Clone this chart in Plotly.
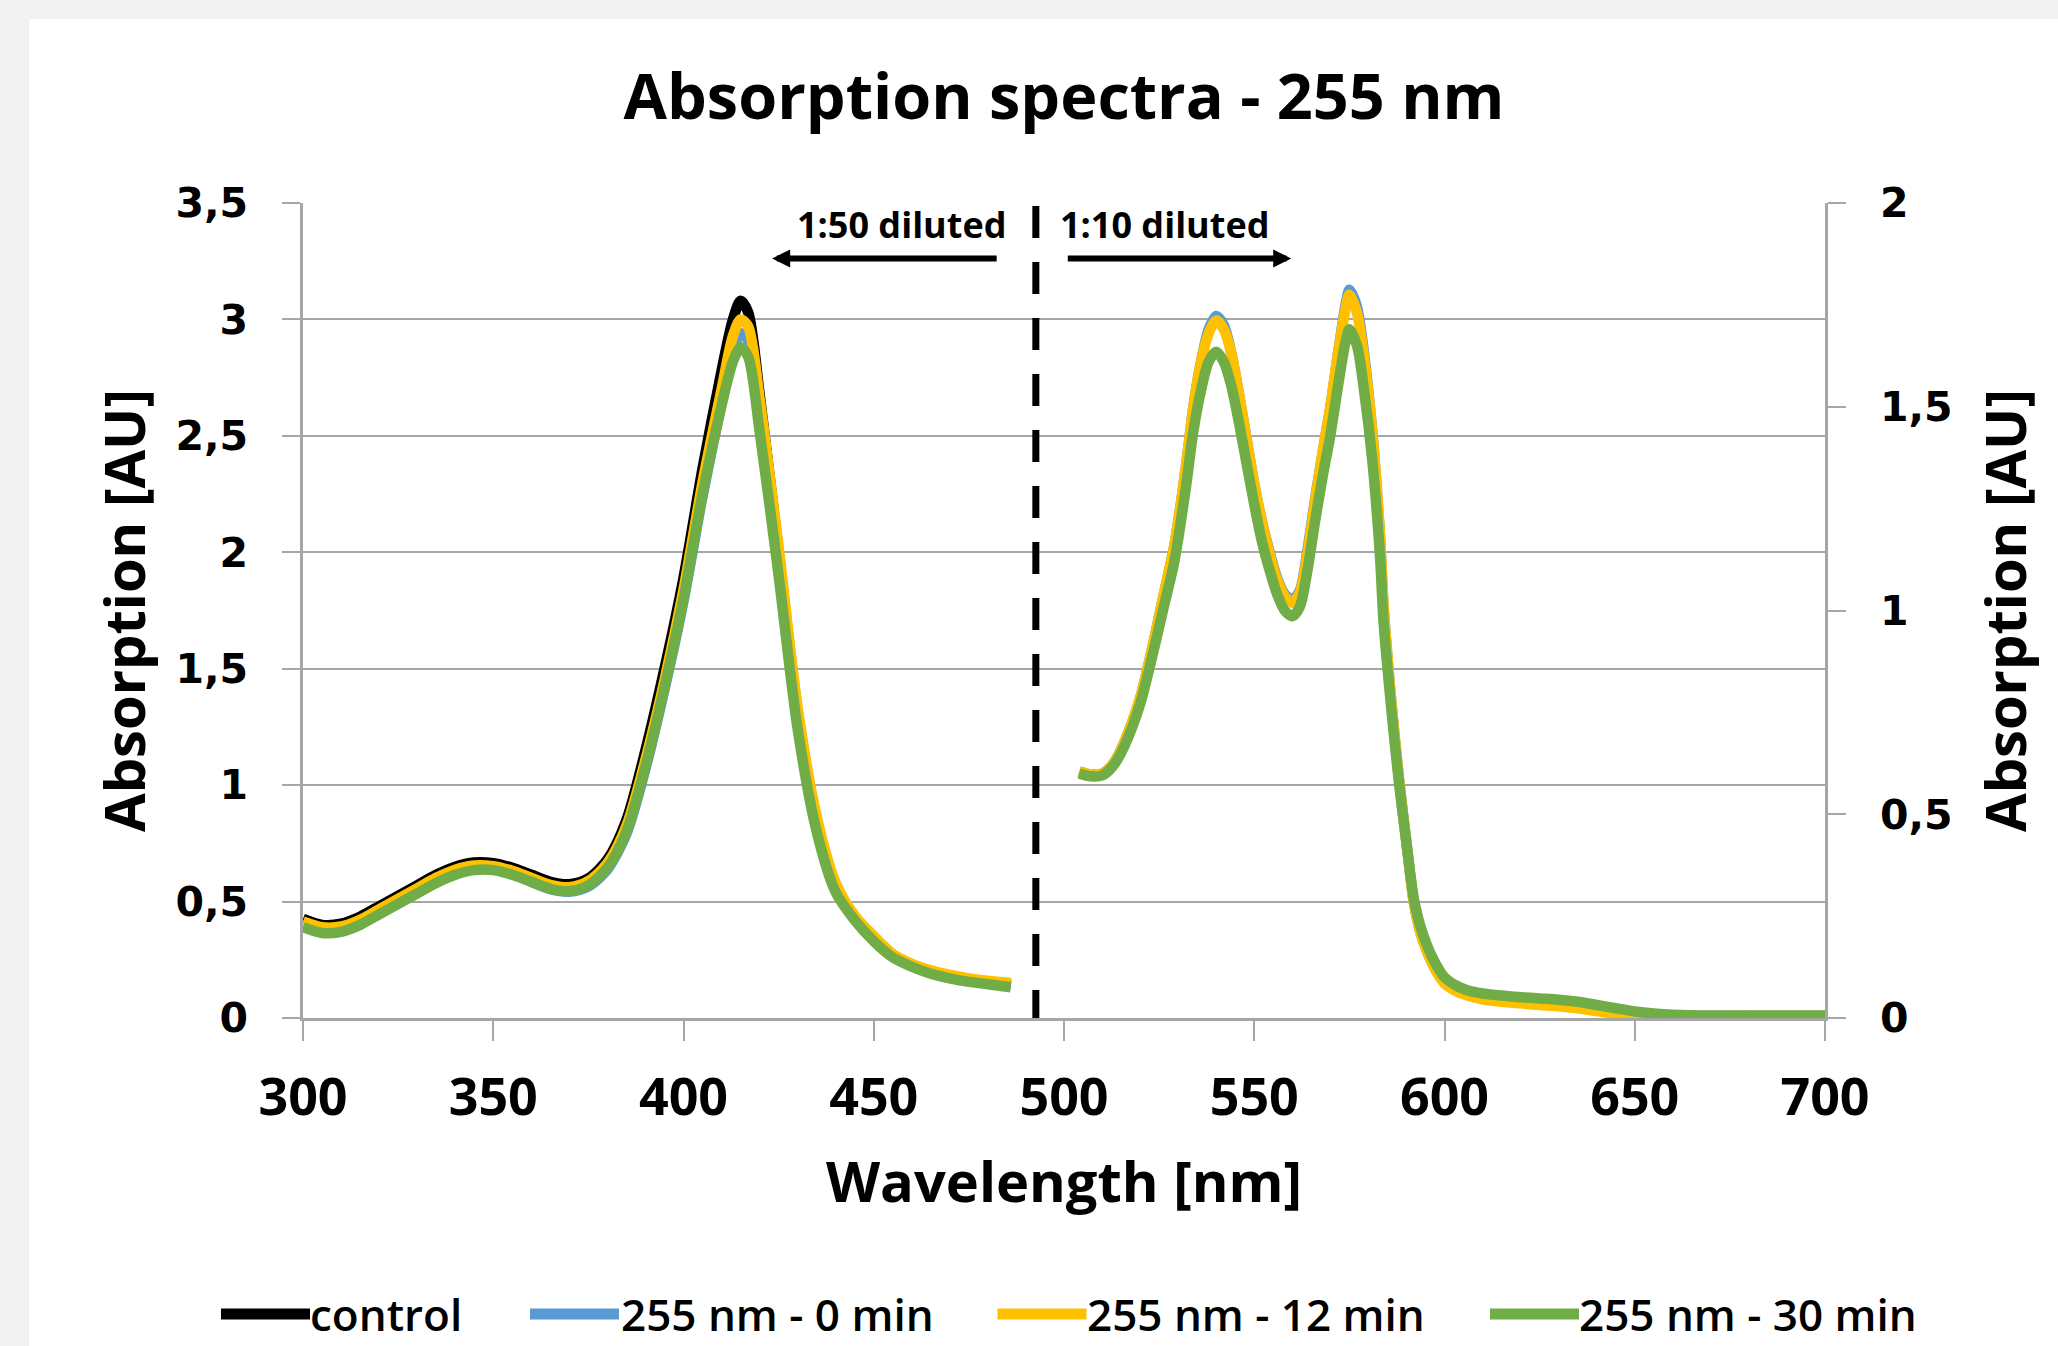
import plotly.graph_objects as go

# ---------------- data ----------------
wl_left = [300, 305, 310, 315, 320, 325, 330, 335, 340, 345, 350, 355, 360, 365, 370, 375,
           380, 385, 390, 395, 400, 405, 410, 413, 415, 417, 420, 425, 430, 435, 440, 445,
           450, 455, 460, 465, 470, 475, 480, 486]

control_left = [0.425, 0.40, 0.405, 0.435, 0.48, 0.525, 0.57, 0.615, 0.65, 0.668, 0.665, 0.645,
                0.615, 0.585, 0.575, 0.60, 0.68, 0.85, 1.15, 1.50, 1.89, 2.36, 2.78, 3.00,
                3.08, 3.03, 2.68, 2.00, 1.30, 0.84, 0.565, 0.43, 0.345, 0.27, 0.228, 0.20,
                0.18, 0.165, 0.153, 0.14]

min0_left = [0.405, 0.38, 0.383, 0.412, 0.455, 0.50, 0.545, 0.59, 0.625, 0.643, 0.64, 0.62,
             0.585, 0.553, 0.542, 0.565, 0.638, 0.79, 1.07, 1.41, 1.79, 2.24, 2.64, 2.86,
             2.94, 2.91, 2.62, 2.00, 1.32, 0.855, 0.575, 0.435, 0.348, 0.272, 0.23, 0.202,
             0.182, 0.167, 0.157, 0.147]

min12_left = [0.415, 0.39, 0.393, 0.422, 0.467, 0.512, 0.557, 0.602, 0.637, 0.655, 0.652, 0.632,
              0.602, 0.572, 0.562, 0.588, 0.665, 0.825, 1.11, 1.45, 1.84, 2.30, 2.70, 2.93,
              3.00, 2.97, 2.66, 2.02, 1.33, 0.865, 0.58, 0.44, 0.352, 0.275, 0.233, 0.205,
              0.185, 0.17, 0.16, 0.15]

min30_left = [0.39, 0.365, 0.37, 0.40, 0.445, 0.49, 0.535, 0.58, 0.615, 0.635, 0.635, 0.615,
              0.585, 0.555, 0.545, 0.57, 0.645, 0.80, 1.08, 1.42, 1.80, 2.25, 2.63, 2.82,
              2.88, 2.84, 2.52, 1.90, 1.24, 0.80, 0.54, 0.42, 0.33, 0.26, 0.22, 0.19,
              0.17, 0.155, 0.145, 0.132]

wl_right = [504, 507, 510, 513, 516, 520, 523, 526, 529, 532, 534, 536, 538, 540, 542, 544,
            546, 548, 550, 552, 554, 556, 558, 560, 562, 564, 566, 568, 570, 572, 574, 575,
            577, 579, 581, 583, 584, 586, 588, 590, 592, 594, 597, 600, 603, 606, 610, 615,
            620, 625, 630, 635, 640, 645, 650, 655, 660, 670, 680, 690, 700]

min0_right = [0.605, 0.598, 0.60, 0.625, 0.68, 0.785, 0.90, 1.03, 1.16, 1.35, 1.50, 1.61,
              1.69, 1.723, 1.70, 1.63, 1.53, 1.42, 1.31, 1.22, 1.145, 1.08, 1.04, 1.027,
              1.05, 1.15, 1.275, 1.39, 1.50, 1.63, 1.75, 1.787, 1.745, 1.62, 1.44, 1.19,
              1.01, 0.78, 0.59, 0.43, 0.28, 0.20, 0.13, 0.087, 0.068, 0.057, 0.048, 0.042,
              0.038, 0.034, 0.031, 0.026, 0.019, 0.012, 0.007, 0.005, 0.005, 0.005, 0.005,
              0.005, 0.005]

min12_right = [0.605, 0.598, 0.60, 0.625, 0.68, 0.785, 0.90, 1.03, 1.16, 1.35, 1.50, 1.61,
               1.68, 1.712, 1.69, 1.63, 1.53, 1.42, 1.31, 1.22, 1.14, 1.075, 1.035, 1.019,
               1.045, 1.14, 1.27, 1.39, 1.50, 1.63, 1.74, 1.775, 1.73, 1.61, 1.44, 1.19,
               1.01, 0.78, 0.59, 0.43, 0.28, 0.20, 0.13, 0.085, 0.066, 0.055, 0.046, 0.04,
               0.036, 0.032, 0.029, 0.024, 0.017, 0.010, 0.005, 0.003, 0.003, 0.004, 0.005,
               0.005, 0.005]

min30_right = [0.60, 0.593, 0.595, 0.62, 0.67, 0.77, 0.88, 1.00, 1.12, 1.30, 1.44, 1.54,
               1.61, 1.635, 1.61, 1.55, 1.46, 1.36, 1.26, 1.17, 1.10, 1.04, 1.00, 0.986,
               1.01, 1.10, 1.22, 1.33, 1.43, 1.55, 1.66, 1.69, 1.65, 1.53, 1.37, 1.14,
               0.97, 0.76, 0.58, 0.43, 0.29, 0.215, 0.145, 0.10, 0.08, 0.068, 0.06, 0.055,
               0.051, 0.048, 0.045, 0.04, 0.032, 0.024, 0.016, 0.011, 0.008, 0.006, 0.006,
               0.006, 0.006]

series_names = ["control", "255 nm - 0 min", "255 nm - 12 min", "255 nm - 30 min"]
series_colors = ["#000000", "#5B9BD5", "#FFC000", "#70AD47"]

x_ticks = [300, 350, 400, 450, 500, 550, 600, 650, 700]
left_ticks = [0, 0.5, 1, 1.5, 2, 2.5, 3, 3.5]
right_ticks = [0, 0.5, 1, 1.5, 2]

divider_wl = 492.6
label_left = "1:50 diluted"
label_right = "1:10 diluted"

# ---------------- figure ----------------
W, H = 2058, 1346
L, R, T, B = 303, 1825, 203, 1018
PW, PH = R - L, B - T


def px_x(px):
    return (px - L) / PW


def px_y(py):
    return (B - py) / PH


GRID = "#A6A6A6"
LW = 10.5

fig = go.Figure()

left_sets = [control_left, min0_left, min12_left, min30_left]
for name, col, ys in zip(series_names, series_colors, left_sets):
    fig.add_trace(go.Scatter(x=wl_left, y=ys, mode="lines", name=name,
                             line=dict(color=col, width=LW, shape="spline", smoothing=0.8),
                             showlegend=False, yaxis="y", hoverinfo="skip"))

right_sets = [min0_right, min12_right, min30_right]
for name, col, ys in zip(series_names[1:], series_colors[1:], right_sets):
    fig.add_trace(go.Scatter(x=wl_right, y=ys, mode="lines", name=name,
                             line=dict(color=col, width=LW, shape="spline", smoothing=0.8),
                             showlegend=False, yaxis="y2", hoverinfo="skip"))

TICKFONT_Y = dict(family="DejaVu Sans", size=41, color="black", weight="bold")
TITLEFONT = dict(family="Open Sans", size=56, color="black", weight="bold")

fig.update_layout(
    width=W, height=H,
    margin=dict(l=L, r=W - R, t=T, b=H - B, pad=0),
    paper_bgcolor="#F2F2F2",
    plot_bgcolor="white",
    separators=", ",
    showlegend=False,
    title=dict(text="Absorption spectra - 255 nm", x=0.5, xref="paper", xanchor="center",
               y=1 - 97 / H, yref="container", yanchor="middle",
               font=dict(family="Open Sans", size=63, color="black", weight="bold")),
    xaxis=dict(range=[300, 700], tickvals=x_ticks, showgrid=False, zeroline=False,
               showline=True, linecolor=GRID, linewidth=2.5,
               ticks="outside", ticklen=20, tickwidth=2, tickcolor=GRID,
               tickfont=dict(family="Open Sans", size=52, color="black", weight="bold"),
               ticklabelstandoff=12,
               title=dict(text="Wavelength [nm]", font=TITLEFONT, standoff=34)),
    yaxis=dict(range=[0, 3.5], tickvals=left_ticks, showgrid=True, gridcolor=GRID, gridwidth=2,
               zeroline=False, showline=True, linecolor=GRID, linewidth=2.5,
               ticks="outside", ticklen=18, tickwidth=2, tickcolor=GRID,
               tickfont=TICKFONT_Y, ticklabelstandoff=26,
               title=dict(text="Absorption [AU]", font=TITLEFONT, standoff=12)),
    yaxis2=dict(range=[0, 2], tickvals=right_ticks, overlaying="y", side="right",
                showgrid=False, zeroline=False, showline=True, linecolor=GRID, linewidth=2.5,
                ticks="outside", ticklen=18, tickwidth=2, tickcolor=GRID,
                tickfont=TICKFONT_Y, ticklabelstandoff=26,
                title=dict(text="Absorption [AU]", font=TITLEFONT, standoff=36)),
)

# white chart-area background (gray border at top/left as in the reference)
fig.add_shape(type="rect", xref="paper", yref="paper", layer="below",
              x0=px_x(29), x1=px_x(W + 10), y0=px_y(H + 10), y1=px_y(19),
              fillcolor="white", line=dict(width=0))

# dashed divider
fig.add_shape(type="line", xref="x", yref="y", x0=divider_wl, x1=divider_wl,
              y0=3.487, y1=0, line=dict(color="black", width=7, dash="32px,24px"))

ANNFONT = dict(family="Open Sans", size=36, color="black", weight="bold")
fig.add_annotation(x=485.3, y=3.408, xref="x", yref="y", text=label_left, showarrow=False,
                   xanchor="right", yanchor="middle", font=ANNFONT)
fig.add_annotation(x=498.3, y=3.408, xref="x", yref="y", text=label_right, showarrow=False,
                   xanchor="left", yanchor="middle", font=ANNFONT)

# arrows
for tail, tip in [(482.7, 423.3), (500.6, 559.7)]:
    fig.add_annotation(x=tip, y=3.262, ax=tail, ay=3.262, xref="x", yref="y",
                       axref="x", ayref="y", text="", showarrow=True,
                       arrowhead=2, arrowsize=0.6, arrowwidth=6, arrowcolor="black",
                       standoff=0, startstandoff=0)

# legend (drawn like the original, with long line samples)
leg_line_x = [221, 530, 997.5, 1490]
leg_text_x = [308, 619, 1085, 1577]
leg_y = 1314
for name, col, lx, tx in zip(series_names, series_colors, leg_line_x, leg_text_x):
    fig.add_shape(type="line", xref="paper", yref="paper",
                  x0=px_x(lx), x1=px_x(lx + 89), y0=px_y(leg_y), y1=px_y(leg_y),
                  line=dict(color=col, width=11))
    fig.add_annotation(x=px_x(tx), y=px_y(leg_y), xref="paper", yref="paper", text=name,
                       showarrow=False, xanchor="left", yanchor="middle",
                       font=dict(family="Open Sans", size=44, color="black", weight=600))

fig.write_html("out.html",
               config={"displayModeBar": False},
               post_script="document.body.style.margin='0';"
                           "document.body.style.background='#F2F2F2';"
                           "document.documentElement.style.overflow='hidden';")
